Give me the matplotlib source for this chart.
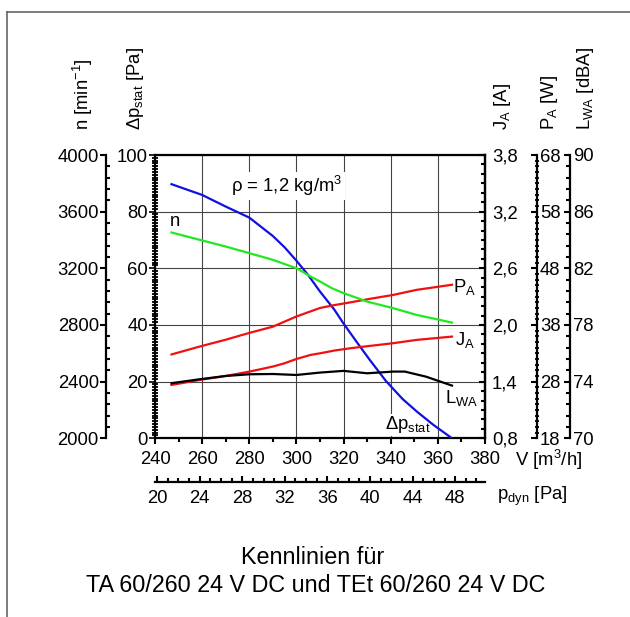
import matplotlib
matplotlib.use("Agg")
import matplotlib.pyplot as plt
from matplotlib.ticker import MultipleLocator, FixedLocator
from matplotlib.lines import Line2D
import numpy as np

plt.rcParams['font.family'] = ['Liberation Sans', 'DejaVu Sans']
plt.rcParams['mathtext.fontset'] = 'custom'
plt.rcParams['mathtext.rm'] = 'Liberation Sans'
plt.rcParams['mathtext.it'] = 'Liberation Sans'
plt.rcParams['mathtext.bf'] = 'Liberation Sans'

# ---- data (V in m3/h) ----
v_dp = [247, 260, 270, 280, 290, 295, 300, 305, 310, 316, 320, 326, 331, 338, 345, 351, 358, 366]
dp_stat = [89.7, 85.9, 81.8, 77.9, 71.4, 67.4, 62.7, 57.6, 51.8, 45.5, 40.5, 33.5, 27.8, 20.2, 13.9, 9.5, 4.8, 0.0]

v_n = [247, 259, 270, 280, 290, 295, 300, 306, 310, 315, 320, 330, 341, 351, 366]
n_rpm = [3453, 3401, 3354, 3307, 3260, 3230, 3201, 3142, 3107, 3060, 3025, 2965, 2919, 2871, 2817]

v_p = [247, 259, 270, 280, 290, 295, 300, 306, 310, 316, 323, 331, 341, 351, 366]
p_a = [32.8, 34.2, 35.4, 36.6, 37.7, 38.6, 39.5, 40.4, 41.0, 41.5, 42.0, 42.6, 43.3, 44.2, 45.1]

v_j = [247, 259, 270, 280, 290, 295, 300, 306, 310, 316, 323, 331, 341, 351, 366]
j_a = [1.365, 1.418, 1.46, 1.506, 1.56, 1.595, 1.640, 1.683, 1.70, 1.729, 1.754, 1.778, 1.807, 1.842, 1.877]

v_l = [247, 259, 270, 280, 290, 300, 310, 320, 330, 341, 346, 355, 366]
l_wa = [73.89, 74.17, 74.40, 74.52, 74.54, 74.47, 74.64, 74.76, 74.59, 74.71, 74.71, 74.35, 73.72]

n_ticks = [2000, 2400, 2800, 3200, 3600, 4000]
dp_ticks = [0, 20, 40, 60, 80, 100]
j_ticks = [0.8, 1.4, 2.0, 2.6, 3.2, 3.8]
p_ticks = [18, 28, 38, 48, 58, 68]
l_ticks = [70, 74, 78, 82, 86, 90]
v_ticks = [240, 260, 280, 300, 320, 340, 360, 380]
pdyn_ticks = [20, 24, 28, 32, 36, 40, 44, 48]

W, H = 630, 617
fig = plt.figure(figsize=(W / 100, H / 100), dpi=100)

# main axes in pixel coords
x0, x1, yt, yb = 155, 485, 155, 438.3
pos = [x0 / W, 1 - yb / H, (x1 - x0) / W, (yb - yt) / H]
ax = fig.add_axes(pos)
fs = 13.3

ax.set_xlim(240, 380)
ax.set_ylim(0, 100)
ax.set_xticks(v_ticks)
ax.set_yticks(dp_ticks)
ax.xaxis.set_minor_locator(MultipleLocator(10))
ax.yaxis.set_minor_locator(MultipleLocator(1))
ax.grid(True, which='major', color='#444444', lw=0.8)
for s in ['left', 'right', 'top', 'bottom']:
    ax.spines[s].set_linewidth(1.6)
ax.tick_params(axis='x', which='major', direction='out', length=4, width=1.5, pad=5, labelsize=fs)
ax.tick_params(axis='x', which='minor', direction='out', length=3, width=1.5)
ax.tick_params(axis='y', which='major', direction='out', length=4, width=1.2, pad=1, labelsize=fs)
ax.tick_params(axis='y', which='minor', direction='inout', length=4, width=1.3)


def right_axis(lim, ticks, minor, frac, pad=4, fmt=None):
    a = ax.twinx()
    a.set_ylim(*lim)
    a.set_yticks(ticks)
    a.yaxis.set_minor_locator(FixedLocator(np.arange(lim[0], lim[1] + 1e-6, minor)))
    if fmt:
        a.set_yticklabels([fmt(t) for t in ticks])
    if frac != 1:
        a.spines['right'].set_position(('axes', frac))
    a.tick_params(axis='y', which='major', direction='in', length=4, width=1.5, pad=pad, labelsize=fs)
    a.tick_params(axis='y', which='minor', direction='in', length=3, width=1.5)
    for s in ['left', 'top', 'bottom']:
        a.spines[s].set_visible(False)
    a.spines['right'].set_linewidth(1.6)
    return a


ax_j = right_axis((0.8, 3.8), j_ticks, 0.1, 1, pad=5, fmt=lambda v: f'{v:.1f}'.replace('.', ','))
ax_p = right_axis((18, 68), p_ticks, 1, (537 - x0) / (x1 - x0), pad=2)
ax_p.tick_params(axis='y', which='minor', direction='inout', length=3, width=1.3)
ax_l = right_axis((70, 90), l_ticks, 0.8, (570 - x0) / (x1 - x0), pad=2)

# n axis on the far left
ax_n = ax.twinx()
ax_n.set_ylim(2000, 4000)
ax_n.yaxis.set_ticks_position('left')
ax_n.spines['left'].set_position(('axes', (105.7 - x0) / (x1 - x0)))
ax_n.spines['left'].set_visible(True)
for s in ['right', 'top', 'bottom']:
    ax_n.spines[s].set_visible(False)
ax_n.spines['left'].set_linewidth(1.6)
ax_n.set_yticks(n_ticks)
ax_n.yaxis.set_minor_locator(MultipleLocator(80))
ax_n.tick_params(axis='y', which='major', direction='out', length=4, width=1.5, pad=1, labelsize=fs)
ax_n.tick_params(axis='y', which='minor', direction='in', length=3, width=1.5)

# p_dyn axis below
ax_d = fig.add_axes(pos)
ax_d.patch.set_visible(False)
for s in ['left', 'right', 'top']:
    ax_d.spines[s].set_visible(False)
ax_d.spines['bottom'].set_position(('axes', -(481.7 - yb) / (yb - yt)))
ax_d.spines['bottom'].set_linewidth(1.6)
ax_d.set_yticks([])
ax_d.set_xlim(19.81, 50.8)
ax_d.set_xticks(pdyn_ticks)
ax_d.xaxis.set_minor_locator(FixedLocator(range(20, 51, 1)))
ax_d.tick_params(axis='x', which='major', direction='in', length=4, width=1.5, pad=6, labelsize=fs)
ax_d.tick_params(axis='x', which='minor', direction='in', length=3, width=1.5)
ax_d.set_zorder(0)

# curves
ax.plot(v_dp, dp_stat, color='#1010e0', lw=1.6, zorder=5)
ax_n.plot(v_n, n_rpm, color='#22e822', lw=1.6)
ax_p.plot(v_p, p_a, color='#f01010', lw=1.6)
ax_j.plot(v_j, j_a, color='#f01010', lw=1.6)
ax_l.plot(v_l, l_wa, color='black', lw=1.6)

# curve labels
ax.text(248.3, 76.5, 'n', fontsize=fs, ha='center', va='center')
ax.text(371.5, 53.5, 'P$_\\mathrm{A}$', fontsize=fs, ha='center', va='center', clip_on=False)
ax.text(371.5, 34.6, 'J$_\\mathrm{A}$', fontsize=fs, ha='center', va='center', clip_on=False)
ax.text(370.1, 14.1, 'L$_\\mathrm{WA}$', fontsize=fs, ha='center', va='center', clip_on=False)
ax.text(347.4, 4.7, 'Δp$_\\mathrm{stat}$', fontsize=fs, ha='center', va='center',
        bbox=dict(facecolor='white', edgecolor='none', pad=0.5))
ax.text(296, 89.0, 'ρ = 1,2 kg/m$^3$', fontsize=fs, ha='center', va='center',
        bbox=dict(facecolor='white', edgecolor='none', pad=1.5), zorder=3)


# axis titles
def ylab(px, s):
    fig.text(px / W, 1 - 130 / H, s, rotation=90, ha='center', va='bottom', fontsize=fs)


ylab(82.5, 'n [min$^{-1}$]')
ylab(136, 'Δp$_\\mathrm{stat}$ [Pa]')
ylab(502.5, 'J$_\\mathrm{A}$ [A]')
ylab(550, 'P$_\\mathrm{A}$ [W]')
ylab(585, 'L$_\\mathrm{WA}$ [dBA]')
fig.text(515 / W, 1 - 460 / H, 'V [m$^3$/h]', ha='left', va='center', fontsize=fs)
fig.text(497 / W, 1 - 496 / H, 'p$_\\mathrm{dyn}$ [Pa]', ha='left', va='center', fontsize=fs)

fig.text(313 / W, 1 - 558 / H, 'Kennlinien für', ha='center', va='center', fontsize=16.8)
fig.text(316 / W, 1 - 585 / H, 'TA 60/260 24 V DC und TEt 60/260 24 V DC', ha='center', va='center', fontsize=16.8)

# outer frame
fig.add_artist(Line2D([7 / W, 7 / W], [0, 1 - 12 / H], color='#666666', lw=1.2))
fig.add_artist(Line2D([7 / W, 1], [1 - 12 / H, 1 - 12 / H], color='#666666', lw=1.2))

fig.savefig('out.png', dpi=100)
